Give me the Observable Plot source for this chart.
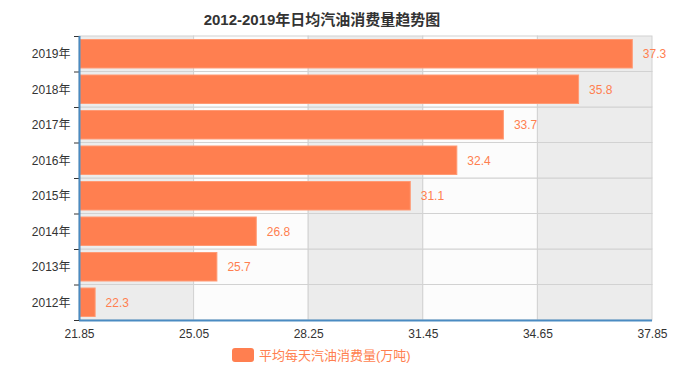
<!DOCTYPE html>
<html><head><meta charset="utf-8">
<script src="https://cdn.jsdelivr.net/npm/d3@7"></script>
<script src="https://cdn.jsdelivr.net/npm/@observablehq/plot@0.6"></script>
<style>
body{margin:0;background:#fff;font-family:"Liberation Sans","Noto Sans CJK SC",sans-serif;}
#wrap{position:relative;width:690px;height:377px;}
#title{position:absolute;left:0;width:644px;top:8px;text-align:center;font-weight:bold;font-size:15px;color:#333;}
#legend{position:absolute;top:345px;left:232px;display:flex;align-items:center;font-size:13px;color:#ff7f50;}
#legend .sw{width:22px;height:14px;background:#ff7f50;border-radius:3px;margin-right:5px;}
#chart{position:absolute;left:0;top:0;}
</style></head>
<body>
<div id="wrap">
<div id="chart"></div>
<div id="title">2012-2019年日均汽油消费量趋势图</div>
<div id="legend"><div class="sw"></div><span>平均每天汽油消费量(万吨)</span></div>
</div>
<script>
const years = ["2012年","2013年","2014年","2015年","2016年","2017年","2018年","2019年"];
const values = [22.3, 25.7, 26.8, 31.1, 32.4, 33.7, 35.8, 37.3];
const xTicks = [21.85, 25.05, 28.25, 31.45, 34.65, 37.85];
const seriesName = "平均每天汽油消费量(万吨)";

const rows = years.map((y, i) => ({year: y, value: values[i], i}));
const cells = [];
rows.forEach(r => {
  for (let j = 0; j < xTicks.length - 1; j++) {
    cells.push({i: r.i, x1: xTicks[j], x2: xTicks[j + 1], alt: j % 2});
  }
});

const plot = Plot.plot({
  width: 690,
  height: 377,
  marginTop: 36,
  marginBottom: 57,
  marginLeft: 79,
  marginRight: 38,
  style: {fontFamily: '"Liberation Sans","Noto Sans CJK SC",sans-serif', fontSize: "12px", color: "#333", background: "transparent"},
  x: {domain: [xTicks[0], xTicks[xTicks.length - 1]]},
  y: {domain: [0, years.length]},
  marks: [
    Plot.rect(cells, {x1: "x1", x2: "x2", y1: d => d.i, y2: d => d.i + 1,
      fill: d => d.alt ? "#fcfcfc" : "#ececec", stroke: "#d2d2d2", strokeWidth: 1}),
    Plot.rect(rows, {x1: xTicks[0], x2: "value", y1: d => d.i, y2: d => d.i + 1,
      insetTop: 3.5, insetBottom: 3.5, insetLeft: 1, fill: "#ff7f50", stroke: "#ff9a74", strokeWidth: 1}),
    Plot.text(rows, {x: "value", y: d => d.i + 0.5, text: d => d.value.toFixed(1), dx: 10,
      textAnchor: "start", fill: "#ff7f50", fontSize: 12}),
    Plot.axisX({ticks: xTicks, tickFormat: d3.format(".2f"), tickSize: 0, tickPadding: 9, fontSize: 12, fill: "#333"}),
    Plot.axisY({ticks: d3.range(0, years.length + 1), tickFormat: () => "", tickSize: 5, stroke: "#333"}),
    Plot.axisY({ticks: d3.range(years.length).map(i => i + 0.5), tickFormat: t => years[Math.round(t - 0.5)],
      tickSize: 0, tickPadding: 9, fontSize: 12, fill: "#333"}),
    Plot.ruleY([0], {stroke: "#4a8bc2", strokeWidth: 2}),
    Plot.ruleX([xTicks[0]], {stroke: "#4a8bc2", strokeWidth: 2})
  ]
});
document.getElementById("chart").appendChild(plot);
</script>
</body></html>
